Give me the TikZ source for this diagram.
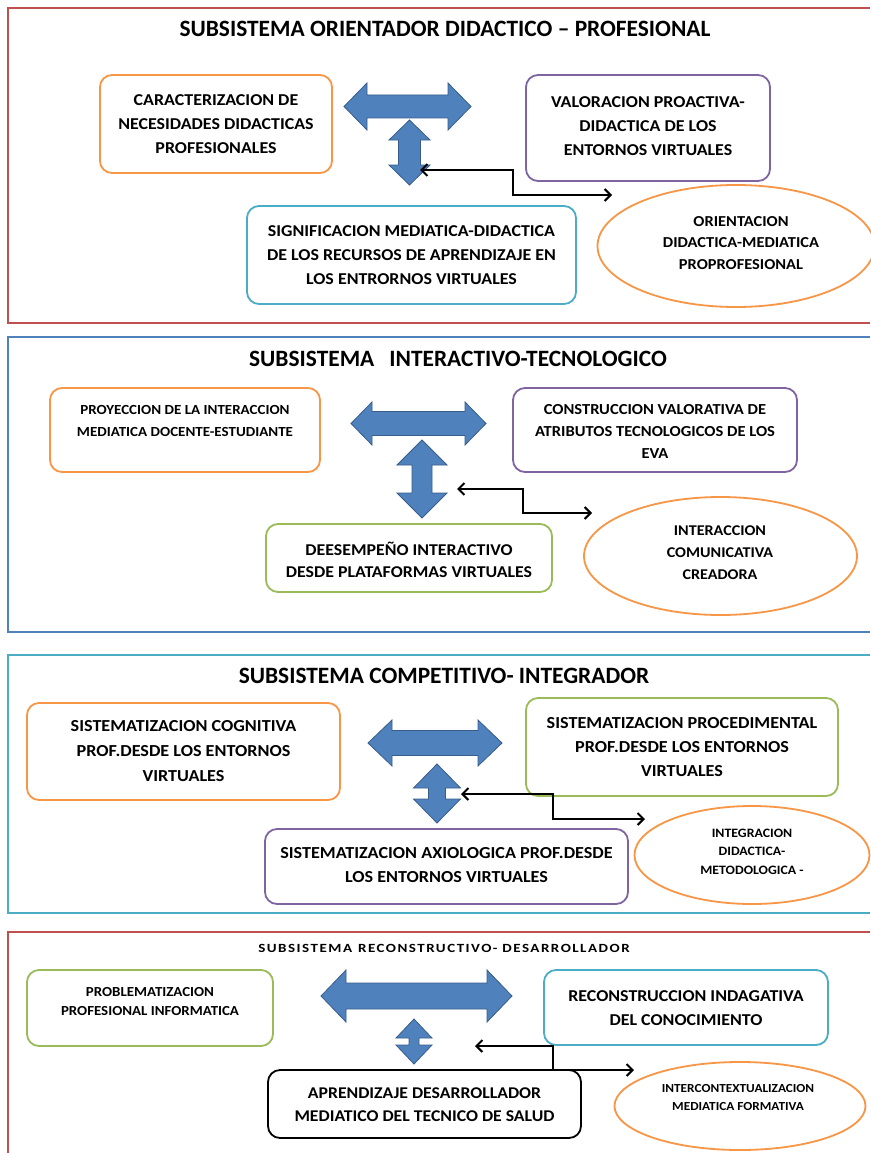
\documentclass[tikz,border=0pt]{standalone}
\usepackage{fontspec}
\setmainfont{Carlito}
\newfontfamily\bxfont[FakeStretch=1.08]{Carlito}
\newfontfamily\widefont[FakeStretch=1.2,LetterSpace=12]{Carlito}
\usetikzlibrary{shapes.geometric,arrows.meta}
\definecolor{cOr}{HTML}{F79646}
\definecolor{cPu}{HTML}{8064A2}
\definecolor{cCy}{HTML}{4BACC6}
\definecolor{cGr}{HTML}{9BBB59}
\definecolor{cBl}{HTML}{4F81BD}
\definecolor{cRe}{HTML}{C0504D}
\definecolor{cAr}{HTML}{4F81BD}
\definecolor{cArD}{HTML}{385D8A}
\newcommand{\fs}[2]{\bxfont\bfseries\fontsize{#1}{#2}\selectfont}
\tikzset{
  box/.style={draw, line width=1.8pt, rounded corners=12pt, inner sep=0pt},
  oval/.style={ellipse, draw=cOr, line width=1.8pt, inner sep=0pt},
  txt/.style={align=center, inner sep=0pt, font=\fs{16.6}{24}},
  ttl/.style={inner sep=0pt, font=\bfseries\fontsize{23.4}{26}\selectfont},
  bigarrow/.style={fill=cAr, draw=cArD, line width=0.8pt},
  conn/.style={line width=2pt, {Straight Barb[length=6pt,width=12pt]}-{Straight Barb[length=6pt,width=12pt]}},
  frame/.style={line width=2.5pt},
}
% #1 left tip x, #2 right tip x, #3 y centre, #4 head length, #5 head half, #6 shaft half
\newcommand{\HArr}[6]{%
  \filldraw[bigarrow] (#1,#3) -- (#1+#4,#3-#5) -- (#1+#4,#3-#6) -- (#2-#4,#3-#6)
    -- (#2-#4,#3-#5) -- (#2,#3) -- (#2-#4,#3+#5) -- (#2-#4,#3+#6)
    -- (#1+#4,#3+#6) -- (#1+#4,#3+#5) -- cycle;}
% #1 top tip y, #2 bottom tip y, #3 x centre, #4 head length, #5 head half, #6 shaft half
\newcommand{\VArr}[6]{%
  \filldraw[bigarrow] (#3,#1) -- (#3+#5,#1+#4) -- (#3+#6,#1+#4) -- (#3+#6,#2-#4)
    -- (#3+#5,#2-#4) -- (#3,#2) -- (#3-#5,#2-#4) -- (#3-#6,#2-#4)
    -- (#3-#6,#1+#4) -- (#3-#5,#1+#4) -- cycle;}
\begin{document}
\begin{tikzpicture}[x=1pt,y=-1pt]
\useasboundingbox (0,0) rectangle (870,1153);
\fill[white] (0,0) rectangle (870,1153);

% ---------------- Section 1
\draw[frame, cRe] (870,8) -- (8,8) -- (8,323) -- (870,323);
\node[ttl] (t1) at (445,29) {SUBSISTEMA ORIENTADOR DIDACTICO -- PROFESIONAL};
\node[box, draw=cOr, minimum width=232pt, minimum height=98pt] (a1) at (216,124) {};
\node[txt] (a1t) at (216,124) {CARACTERIZACION DE\\NECESIDADES DIDACTICAS\\PROFESIONALES};
\node[box, draw=cPu, minimum width=244pt, minimum height=106pt] (b1) at (648,128) {};
\node[txt] (b1t) at (648,126) {VALORACION PROACTIVA-\\DIDACTICA DE LOS\\ENTORNOS VIRTUALES};
\node[box, draw=cCy, minimum width=329pt, minimum height=98pt] (c1) at (411.5,255) {};
\node[txt] (c1t) at (411.5,255) {SIGNIFICACION MEDIATICA-DIDACTICA\\DE LOS RECURSOS DE APRENDIZAJE EN\\LOS ENTRORNOS VIRTUALES};
\node[oval, minimum width=277pt, minimum height=122pt] (d1) at (736,246) {};
\node[txt, font=\fs{15.2}{21.5}] (d1t) at (741,243) {ORIENTACION\\DIDACTICA-MEDIATICA\\PROPROFESIONAL};
\HArr{344}{471}{106.5}{23}{23.5}{11.5}
\VArr{120}{185}{409.5}{20}{20.5}{11}
\coordinate (s1a) at (420,170);
\coordinate (s1b) at (612,195);
\draw[conn] (s1a) -- ++(93,0) |- (s1b);

% ---------------- Section 2
\draw[frame, cBl] (870,337) -- (8,337) -- (8,632) -- (870,632);
\node[ttl] (t2) at (458,359) {SUBSISTEMA\hspace{15pt}INTERACTIVO-TECNOLOGICO};
\node[box, draw=cOr, minimum width=270pt, minimum height=84pt] (a2) at (185,430) {};
\node[txt, font=\fs{13.9}{22}] (a2t) at (185,421) {PROYECCION DE LA INTERACCION\\MEDIATICA DOCENTE-ESTUDIANTE};
\node[box, draw=cPu, minimum width=284pt, minimum height=84pt] (b2) at (655,430) {};
\node[txt, font=\fs{15.3}{22}] (b2t) at (655,431) {CONSTRUCCION VALORATIVA DE\\ATRIBUTOS TECNOLOGICOS DE LOS\\EVA};
\node[box, draw=cGr, minimum width=286pt, minimum height=68pt] (c2) at (409,558) {};
\node[txt, font=\fs{16.5}{22}] (c2t) at (409,560) {DEESEMPEÑO INTERACTIVO\\DESDE PLATAFORMAS VIRTUALES};
\node[oval, minimum width=273pt, minimum height=118pt] (d2) at (720.5,556) {};
\node[txt, font=\fs{14.9}{22}] (d2t) at (720,553) {INTERACCION\\COMUNICATIVA\\CREADORA};
\HArr{351}{486}{423.5}{21}{21.5}{12}
\VArr{440}{518}{422}{25}{25}{10}
\coordinate (s2a) at (457,489);
\coordinate (s2b) at (592,513);
\draw[conn] (s2a) -- ++(66,0) |- (s2b);

% ---------------- Section 3
\draw[frame, cCy] (870,655) -- (8,655) -- (8,913) -- (870,913);
\node[ttl] (t3) at (444,676) {SUBSISTEMA COMPETITIVO- INTEGRADOR};
\node[box, draw=cOr, minimum width=313pt, minimum height=97pt] (a3) at (183.5,751.5) {};
\node[txt, font=\fs{16.8}{25}] (a3t) at (183.5,751) {SISTEMATIZACION COGNITIVA\\PROF.DESDE LOS ENTORNOS\\VIRTUALES};
\node[box, draw=cGr, minimum width=312pt, minimum height=98pt] (b3) at (682,747) {};
\node[txt, font=\fs{16.8}{24}] (b3t) at (682,747) {SISTEMATIZACION PROCEDIMENTAL\\PROF.DESDE LOS ENTORNOS\\VIRTUALES};
\node[box, draw=cPu, minimum width=363pt, minimum height=75pt] (c3) at (446.5,866.5) {};
\node[txt, font=\fs{16.8}{24}] (c3t) at (446.5,865) {SISTEMATIZACION AXIOLOGICA PROF.DESDE\\LOS ENTORNOS VIRTUALES};
\node[oval, minimum width=235pt, minimum height=98pt] (d3) at (752,855) {};
\node[txt, font=\fs{12.8}{18.5}] (d3t) at (752,851.5) {INTEGRACION\\DIDACTICA-\\METODOLOGICA -};
\HArr{368}{502}{743}{24}{23}{12.5}
\VArr{764}{823}{437}{24}{23.5}{8.5}
\coordinate (s3a) at (461,794);
\coordinate (s3b) at (645,819);
\draw[conn] (s3a) -- ++(92,0) |- (s3b);

% ---------------- Section 4
\draw[frame, cRe] (870,932) -- (8,932) -- (8,1153);
\node[inner sep=0pt, font=\widefont\bfseries\fontsize{12.5}{14}\selectfont] (t4) at (444,948) {SUBSISTEMA\hspace{6pt}RECONSTRUCTIVO- DESARROLLADOR};
\node[box, draw=cGr, minimum width=246pt, minimum height=76pt] (a4) at (150,1008) {};
\node[txt, font=\fs{13.8}{19}] (a4t) at (150,1001.5) {PROBLEMATIZACION\\PROFESIONAL INFORMATICA};
\node[box, draw=cCy, minimum width=284pt, minimum height=75pt] (b4) at (686,1007.5) {};
\node[txt] (b4t) at (686,1008) {RECONSTRUCCION INDAGATIVA\\DEL CONOCIMIENTO};
\node[box, draw=black, minimum width=313pt, minimum height=68pt] (c4) at (424.5,1104) {};
\node[txt, font=\fs{16.4}{23}] (c4t) at (424.5,1104.5) {APRENDIZAJE DESARROLLADOR\\MEDIATICO DEL TECNICO DE SALUD};
\node[oval, minimum width=251pt, minimum height=88pt] (d4) at (740,1106) {};
\node[txt, font=\fs{12.3}{18}] (d4t) at (738,1097) {INTERCONTEXTUALIZACION\\MEDIATICA FORMATIVA};
\HArr{321}{512}{996}{25}{26}{13}
\VArr{1019}{1064}{414}{19}{18}{5}
\coordinate (s4a) at (475,1046);
\coordinate (s4b) at (634,1070);
\draw[conn] (s4a) -- ++(78,0) |- (s4b);
\end{tikzpicture}
\end{document}
